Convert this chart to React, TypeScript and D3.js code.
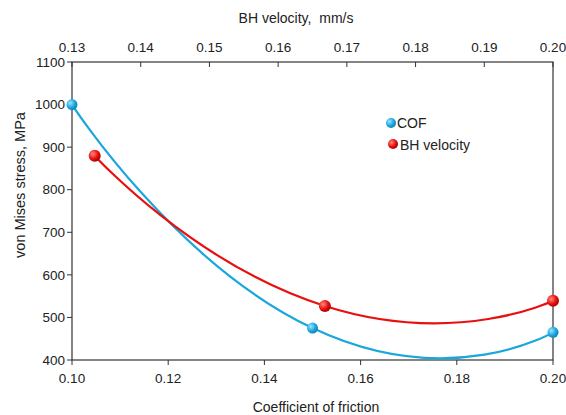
import React from "react";
import * as d3 from "d3";

const cofX = [0.1, 0.15, 0.2];
const cofY = [1000, 475, 465];
const bhX = [0.1333, 0.1668, 0.2];
const bhY = [880, 527, 539];
const bottomTicks = [0.1, 0.12, 0.14, 0.16, 0.18, 0.2];
const topTicks = [0.13, 0.14, 0.15, 0.16, 0.17, 0.18, 0.19, 0.2];
const yTicks = [400, 500, 600, 700, 800, 900, 1000, 1100];

const W = 566, H = 415;
const L = 72, R = 553, T = 62, B = 360;
const font = "'Liberation Sans', Arial, sans-serif";
const BLUE = "#1aa7de";
const RED = "#e8100e";

export default function App() {
  const xB = d3.scaleLinear().domain([0.1, 0.2]).range([L, R]);
  const xT = d3.scaleLinear().domain([0.13, 0.2]).range([L, R]);
  const y = d3.scaleLinear().domain([400, 1100]).range([B, T]);
  const line = d3.line<[number, number]>().curve(d3.curveCardinal.tension(-0.72));
  const cofPts: [number, number][] = cofX.map((v, i) => [xB(v), y(cofY[i])]);
  const bhPts: [number, number][] = bhX.map((v, i) => [xT(v), y(bhY[i])]);
  return (
    <svg width={W} height={H} style={{ position: "absolute", left: 0, top: 0, background: "#fff" }}>
      <defs>
        <radialGradient id="gb" cx="35%" cy="35%" r="70%">
          <stop offset="0%" stopColor="#9fe3ff" />
          <stop offset="60%" stopColor={BLUE} />
          <stop offset="100%" stopColor="#0d7fb0" />
        </radialGradient>
        <radialGradient id="gr" cx="35%" cy="35%" r="70%">
          <stop offset="0%" stopColor="#ff8a80" />
          <stop offset="60%" stopColor={RED} />
          <stop offset="100%" stopColor="#a00000" />
        </radialGradient>
      </defs>
      <rect x={L} y={T} width={R - L} height={B - T} fill="none" stroke="#333" strokeWidth={1.2} />
      {yTicks.map((t) => (
        <g key={"y" + t}>
          <line x1={L - 5} x2={L} y1={y(t)} y2={y(t)} stroke="#333" />
          <text x={L - 7} y={y(t)} dy="0.35em" textAnchor="end" fontFamily={font} fontSize={13.5} fill="#222">{t}</text>
        </g>
      ))}
      {bottomTicks.map((t) => (
        <g key={"b" + t}>
          <line x1={xB(t)} x2={xB(t)} y1={B} y2={B + 5} stroke="#333" />
          <text x={xB(t)} y={B + 23} textAnchor="middle" fontFamily={font} fontSize={13.5} fill="#222">{t.toFixed(2)}</text>
        </g>
      ))}
      {topTicks.map((t) => (
        <g key={"t" + t}>
          <line x1={xT(t)} x2={xT(t)} y1={T} y2={T + 5} stroke="#333" />
          <text x={xT(t)} y={T - 10} textAnchor="middle" fontFamily={font} fontSize={13.5} fill="#222">{t.toFixed(2)}</text>
        </g>
      ))}
      <text x={316} y={412} textAnchor="middle" fontFamily={font} fontSize={14} fill="#222">Coefficient of friction</text>
      <text x={296} y={23} textAnchor="middle" fontFamily={font} fontSize={14} fill="#222" style={{ whiteSpace: "pre" }}>BH velocity,  mm/s</text>
      <text transform={`translate(25,185) rotate(-90)`} textAnchor="middle" fontFamily={font} fontSize={14.5} fill="#222">von Mises stress, MPa</text>
      <path d={line(cofPts) || ""} fill="none" stroke={BLUE} strokeWidth={2.2} />
      <path d={line(bhPts) || ""} fill="none" stroke={RED} strokeWidth={2.2} />
      {cofPts.map((p, i) => <circle key={"c" + i} cx={p[0]} cy={p[1]} r={5.5} fill="url(#gb)" />)}
      {bhPts.map((p, i) => <circle key={"r" + i} cx={p[0]} cy={p[1]} r={6} fill="url(#gr)" />)}
      <circle cx={391} cy={123} r={5} fill="url(#gb)" />
      <text x={397} y={128} fontFamily={font} fontSize={14} fill="#222">COF</text>
      <circle cx={393} cy={144} r={5} fill="url(#gr)" />
      <text x={400} y={150} fontFamily={font} fontSize={14} fill="#222">BH velocity</text>
    </svg>
  );
}
